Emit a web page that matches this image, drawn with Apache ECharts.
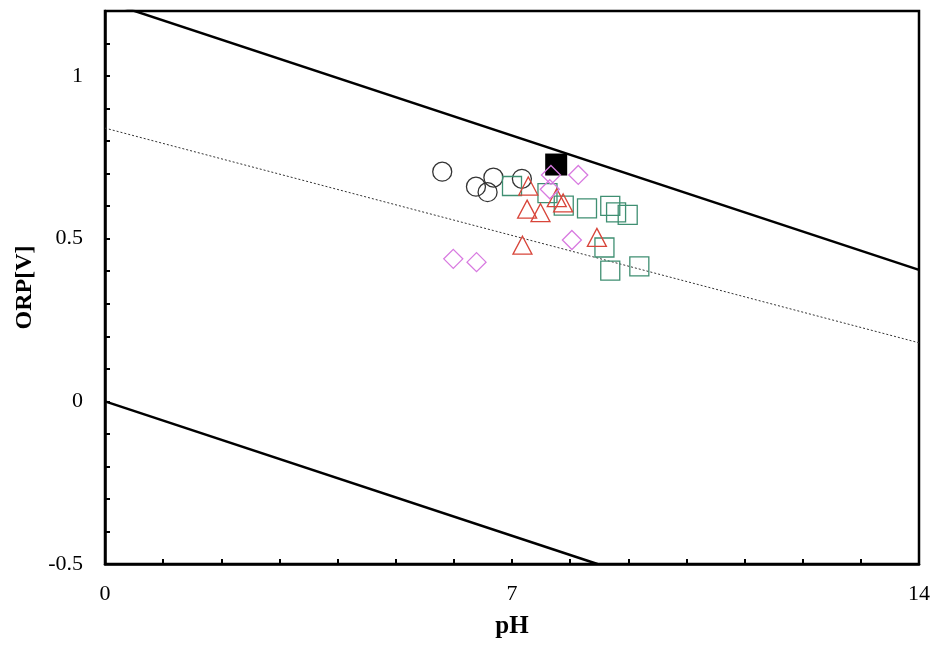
<!DOCTYPE html>
<html>
<head>
<meta charset="utf-8">
<script src="https://cdn.jsdelivr.net/npm/echarts@6/dist/echarts.min.js"></script>
<style>html,body{margin:0;padding:0;background:#fff}#c{width:936px;height:646px}</style>
</head>
<body>
<div id="c"></div>
<script>
// Reference lines (pH, ORP)
const upperLine = [[0, 1.23], [14, 0.404]];
const lowerLine = [[0, 0], [8.47, -0.5]];
const dottedLine = [[0, 0.84], [14, 0.18]];

// Data points (pH, ORP[V])
const circles = [[5.80, 0.706], [6.38, 0.660], [6.58, 0.643], [6.68, 0.688], [7.17, 0.684]];
const squares = [[7.00, 0.662], [7.61, 0.640], [7.89, 0.602], [8.29, 0.593], [8.69, 0.601],
                 [8.79, 0.581], [8.99, 0.573], [8.59, 0.473], [8.69, 0.402], [9.19, 0.415]];
const triangles = [[7.28, 0.662], [7.26, 0.591], [7.49, 0.580], [7.77, 0.626], [7.88, 0.610],
                   [7.18, 0.480], [8.46, 0.504]];
const diamonds = [[7.67, 0.696], [8.14, 0.696], [7.65, 0.652], [8.03, 0.496], [5.99, 0.438], [6.39, 0.428]];
const filledSquare = [[7.76, 0.728]];

// Axis settings
const xTickLabels = [0, 7, 14];
const yTickLabels = [-0.5, 0, 0.5, 1];

const font = '"Liberation Serif", "Times New Roman", serif';
const chart = echarts.init(document.getElementById('c'));

function openMarker(name, data, symbol, size, color) {
  return {
    name, type: 'scatter', data, symbol, symbolSize: size,
    itemStyle: { color: 'rgba(0,0,0,0)', borderColor: color, borderWidth: 1.3, opacity: 1 },
    emphasis: { disabled: true }, z: 3
  };
}
function refLine(data, width, type, color) {
  return {
    type: 'line', data, symbol: 'none', clip: true, silent: true,
    lineStyle: { color, width, type }, z: 2
  };
}

chart.setOption({
  animation: false,
  backgroundColor: '#fff',
  grid: { left: 105, right: 17, top: 11, bottom: 82, show: true, borderColor: '#000', borderWidth: 2.5, backgroundColor: 'transparent' },
  xAxis: {
    type: 'value', min: 0, max: 14, interval: 1,
    name: 'pH', nameLocation: 'middle', nameGap: 50,
    nameTextStyle: { fontFamily: font, fontWeight: 'bold', fontSize: 25, color: '#000' },
    axisLine: { show: true, onZero: false, lineStyle: { color: '#000', width: 2.5 } },
    axisTick: { show: true, inside: true, length: 5, lineStyle: { color: '#000', width: 2 } },
    axisLabel: {
      fontFamily: font, fontSize: 22, color: '#000', margin: 19,
      formatter: v => xTickLabels.some(t => Math.abs(t - v) < 1e-6) ? String(v) : ''
    },
    splitLine: { show: false }
  },
  yAxis: {
    type: 'value', min: -0.5, max: 1.2, interval: 0.1,
    name: 'ORP[V]', nameLocation: 'middle', nameGap: 68, nameRotate: 90,
    nameTextStyle: { fontFamily: font, fontWeight: 'bold', fontSize: 24, color: '#000' },
    axisLine: { show: true, onZero: false, lineStyle: { color: '#000', width: 2.5 } },
    axisTick: { show: true, inside: true, length: 5, lineStyle: { color: '#000', width: 2 } },
    axisLabel: {
      fontFamily: font, fontSize: 22, color: '#000', margin: 22,
      formatter: v => {
        const t = yTickLabels.find(t => Math.abs(t - v) < 1e-6);
        return t === undefined ? '' : String(t);
      }
    },
    splitLine: { show: false }
  },
  series: [
    refLine(upperLine, 2.5, 'solid', '#000'),
    refLine(lowerLine, 2.5, 'solid', '#000'),
    refLine(dottedLine, 1, [2, 2], '#333'),
    openMarker('circle', circles, 'circle', 19, '#333333'),
    openMarker('square', squares, 'rect', 19, '#3f8f72'),
    openMarker('triangle', triangles, 'triangle', [19, 18], '#d8453a'),
    {
      name: 'filled', type: 'scatter', data: filledSquare, symbol: 'rect', symbolSize: 22,
      itemStyle: { color: '#000', opacity: 1 }, z: 3
    },
    openMarker('diamond', diamonds, 'diamond', 19, '#d87ae0')
  ]
});
</script>
</body>
</html>
